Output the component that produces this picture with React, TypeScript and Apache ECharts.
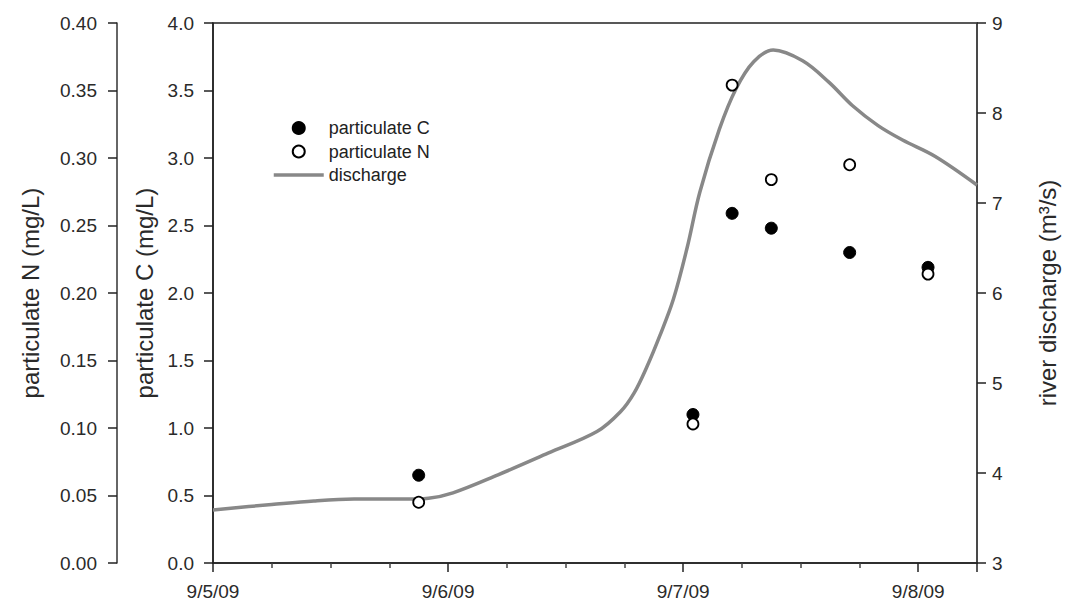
import React, { useEffect, useRef } from "react";
import * as echarts from "echarts";

// Sampling times (local time)
const START = "2009-09-05T00:00";
const END = "2009-09-08T06:00";
const sampleTimes = [
  "2009-09-05T21:00",
  "2009-09-07T01:00",
  "2009-09-07T05:00",
  "2009-09-07T09:00",
  "2009-09-07T17:00",
  "2009-09-08T01:00",
];
const particulateC = [0.65, 1.1, 2.59, 2.48, 2.3, 2.19];
const particulateN = [0.045, 0.103, 0.354, 0.284, 0.295, 0.214];

// Discharge record: hours since 9/5/09 00:00 and m3/s
const dischargeHours = [0, 6, 10.3, 14.4, 19.5, 22, 24.5, 29.1, 34.2, 39.2, 41.6, 43, 44.3, 45.6, 47, 48.4, 49.7, 51.7, 53.4, 55.2, 57.2, 60.2, 62.9, 65.3, 67.9, 70.4, 73.7, 78];
const dischargeValues = [3.59, 3.65, 3.69, 3.71, 3.71, 3.72, 3.78, 3.98, 4.22, 4.46, 4.68, 4.89, 5.18, 5.52, 5.93, 6.5, 7.12, 7.82, 8.27, 8.57, 8.7, 8.58, 8.34, 8.08, 7.86, 7.7, 7.52, 7.2];

const xTickLabels = ["9/5/09", "9/6/09", "9/7/09", "9/8/09"];

const FONT = "Liberation Sans, Arial, sans-serif";

function hoursSinceStart(t: string): number {
  return (new Date(t).getTime() - new Date(START).getTime()) / 3600000;
}

export default function App() {
  const ref = useRef<HTMLDivElement>(null);
  useEffect(() => {
    if (!ref.current) return;
    const chart = echarts.init(ref.current, undefined, { renderer: "svg" });
    const xMax = hoursSinceStart(END);
    const sampleH = sampleTimes.map(hoursSinceStart);
    const axisLine = { show: true, lineStyle: { color: "#222", width: 1.5 } };
    const tick = { show: true, length: 9, lineStyle: { color: "#222", width: 1.5 } };
    const axisLabel = { color: "#2a2a2a", fontSize: 19, fontFamily: FONT };
    const nameStyle = { color: "#2a2a2a", fontSize: 24, fontFamily: FONT };
    chart.setOption({
      animation: false,
      backgroundColor: "#fff",
      grid: {
        left: 213,
        right: 85,
        top: 23,
        bottom: 43,
        show: true,
        borderColor: "#222",
        borderWidth: 1.5,
      },
      legend: {
        orient: "vertical",
        left: 267,
        top: 114,
        itemWidth: 50,
        itemHeight: 12,
        itemGap: 5.5,
        textStyle: { color: "#222", fontSize: 18, fontFamily: FONT },
        data: [
          "particulate C",
          "particulate N",
          { name: "discharge", itemStyle: { opacity: 0 }, lineStyle: { width: 3.5, color: "#888" } },
        ],
      },
      xAxis: {
        type: "value",
        min: 0,
        max: xMax,
        interval: 24,
        axisLine: axisLine,
        axisTick: tick,
        minorTick: { show: true, splitNumber: 4, length: 5, lineStyle: { color: "#444", width: 1.5 } },
        splitLine: { show: false },
        axisLabel: {
          ...axisLabel,
          margin: 19,
          showMaxLabel: false,
          formatter: (v: number) => xTickLabels[Math.round(v / 24)] ?? "",
        },
      },
      yAxis: [
        {
          type: "value",
          position: "left",
          min: 0,
          max: 4,
          interval: 0.5,
          name: "particulate C (mg/L)",
          nameLocation: "middle",
          nameGap: 53,
          nameTextStyle: nameStyle,
          axisLine: axisLine,
          axisTick: tick,
          splitLine: { show: false },
          axisLabel: { ...axisLabel, margin: 19, formatter: (v: number) => v.toFixed(1) },
        },
        {
          type: "value",
          position: "left",
          offset: 96,
          min: 0,
          max: 0.4,
          interval: 0.05,
          name: "particulate N (mg/L)",
          nameLocation: "middle",
          nameGap: 75,
          nameTextStyle: nameStyle,
          axisLine: { show: true, lineStyle: { color: "#333", width: 1.5 } },
          axisTick: tick,
          splitLine: { show: false },
          axisLabel: { ...axisLabel, margin: 20, formatter: (v: number) => v.toFixed(2) },
        },
        {
          type: "value",
          position: "right",
          min: 3,
          max: 9,
          interval: 1,
          name: "river discharge (m³/s)",
          nameLocation: "middle",
          nameGap: 58,
          nameRotate: 90,
          nameTextStyle: nameStyle,
          axisLine: { show: true, lineStyle: { color: "#444", width: 1.5 } },
          axisTick: tick,
          splitLine: { show: false },
          axisLabel: { ...axisLabel, margin: 15 },
        },
      ],
      series: [
        {
          name: "discharge",
          type: "line",
          yAxisIndex: 2,
          smooth: 0.35,
          symbol: "none",
          lineStyle: { color: "#888", width: 3.5 },
          itemStyle: { color: "#888" },
          data: dischargeHours.map((h, i) => [h, dischargeValues[i]]),
          z: 2,
        },
        {
          name: "particulate C",
          type: "scatter",
          yAxisIndex: 0,
          symbol: "circle",
          symbolSize: 12,
          itemStyle: { color: "#000", borderColor: "#000", borderWidth: 1, opacity: 1 },
          data: sampleH.map((h, i) => [h, particulateC[i]]),
          z: 3,
        },
        {
          name: "particulate N",
          type: "scatter",
          yAxisIndex: 1,
          symbol: "circle",
          symbolSize: 11,
          itemStyle: { color: "#fff", borderColor: "#000", borderWidth: 1.8, opacity: 1 },
          data: sampleH.map((h, i) => [h, particulateN[i]]),
          z: 4,
        },
      ],
    });
    return () => chart.dispose();
  }, []);
  return <div ref={ref} style={{ width: 1067, height: 606, position: "absolute", left: 0, top: 0 }} />;
}
